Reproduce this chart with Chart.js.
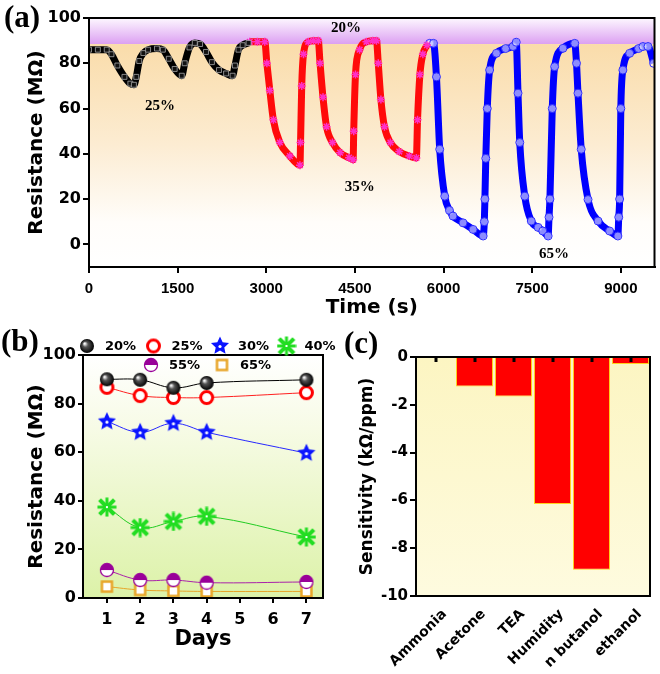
<!DOCTYPE html>
<html lang="en">
<head>
<meta charset="UTF-8">
<title>Resistance response</title>
<script src="https://cdn.jsdelivr.net/npm/chart.js"></script>
<style>
    body { margin: 0; background: #ffffff; }
    #fig { position: relative; width: 660px; height: 674px; overflow: hidden; }
    canvas { position: absolute; }
    .tag {
        position: absolute;
        font-family: "Liberation Serif", serif;
        font-weight: bold;
        font-size: 31px;
        line-height: 1;
        color: #000;
    }
</style>
</head>
<body>
<div id="fig">
    <canvas id="ca" width="660" height="322" style="left:0;top:0"></canvas>
    <canvas id="cb" width="345" height="364" style="left:0;top:310px"></canvas>
    <canvas id="cc" width="330" height="364" style="left:330px;top:310px"></canvas>
    <div class="tag" style="left:4px;top:1px">(a)</div>
    <div class="tag" style="left:1px;top:325px">(b)</div>
    <div class="tag" style="left:344px;top:327px">(c)</div>
</div>

<script>
// ---------- (a) resistance vs time, three humidity runs
const timeBlack = [0, 150, 300, 380, 480, 600, 700, 760, 800, 850, 920, 1000, 1150, 1250, 1350, 1450, 1570, 1620, 1700, 1790, 1880, 1980, 2080, 2200, 2320, 2430, 2470, 2530, 2600, 2700];
const resBlack  = [86, 86, 86, 84, 79, 74, 71, 70.5, 74, 81, 84.5, 86, 86.5, 86, 82, 77.5, 74.5, 80, 87, 89, 88.5, 85, 80.5, 77, 75.5, 74.5, 79, 86, 88, 89];

const timeRed = [2720, 2850, 2975, 3010, 3060, 3120, 3230, 3400, 3570, 3580, 3600, 3630, 3710, 3800, 3880, 3910, 3960, 4020, 4120, 4250, 4400, 4470, 4480, 4510, 4580, 4695, 4800, 4865, 4895, 4940, 5000, 5100, 5250, 5420, 5540, 5560, 5600, 5650, 5720];
const resRed  = [89.5, 89.5, 89.5, 80, 68, 55, 45, 39, 35, 45, 70, 84, 89.5, 90, 90, 80, 65, 52, 45, 40.5, 38.3, 37.4, 50, 75, 86, 89.5, 90, 90, 80, 64, 52, 45, 41, 39, 38.2, 55, 75, 84, 88];

const timeBlue = [5765, 5830, 5880, 5935, 6020, 6100, 6160, 6330, 6500, 6670, 6690, 6700, 6715, 6740, 6780, 6895, 7050, 7175, 7230, 7260, 7290, 7375, 7485, 7600, 7680, 7770, 7785, 7800, 7840, 7880, 8020, 8220, 8250, 8275, 8330, 8445, 8615, 8810, 8950, 8965, 8980, 9000, 9035, 9150, 9300, 9375, 9460, 9555];
const resBlue  = [88.8, 88.8, 74, 42, 21.3, 15, 12.5, 9.5, 6.6, 3.7, 10, 20, 38, 60, 77, 84.4, 86.5, 87.4, 89.3, 66.8, 45, 21.3, 10.3, 7.5, 5.9, 3.7, 12, 20, 60, 78.5, 86.6, 88.8, 80, 66.8, 42, 19.8, 10.3, 5.9, 3.7, 12, 20, 60, 77, 84.4, 86.5, 87.4, 87.4, 80];

const timeTicks = [0, 1500, 3000, 4500, 6000, 7500, 9000];
const resTicksA = [0, 20, 40, 60, 80, 100];

// RH labels written inside panel (a)
const rhNotes = ['20%', '25%', '35%', '65%'];
const rhNoteT = [4350, 1200, 4580, 7870];
const rhNoteR = [95.6, 61.2, 25.1, -4.4];

// ---------- (b) stability over days
const days = [1, 2, 3, 4, 7];
const dayTicks = [1, 2, 3, 4, 5, 6, 7];
const rh20 = [90, 89.8, 86.5, 88.5, 89.8];
const rh25 = [86.7, 83.3, 82.5, 82.5, 84.5];
const rh30 = [72.6, 68.2, 71.9, 68.2, 59.6];
const rh40 = [37.4, 29, 31.5, 33.6, 25.1];
const rh55 = [11.5, 7.4, 7.4, 6.3, 6.6];
const rh65 = [4.7, 3.3, 2.9, 2.7, 2.7];
const resTicksB = [0, 20, 40, 60, 80, 100];

// ---------- (c) sensitivity per gas
const gases = ['Ammonia', 'Acetone', 'TEA', 'Humidity', 'n butanol', 'ethanol'];
const sensitivity = [0, -1.23, -1.65, -6.15, -8.9, -0.29];
const sensTicks = [0, -2, -4, -6, -8, -10];

Chart.defaults.font.family = '"DejaVu Sans", sans-serif';
Chart.defaults.font.weight = 'bold';
Chart.defaults.color = '#000';

const pts = (xs, ys) => xs.map((x, i) => ({ x: x, y: ys[i] }));
const fixTicks = list => scale => { scale.ticks = list.map(v => ({ value: v })); };
const plain = v => String(v);

// black frame round the plot area
const boxPlugin = {
    id: 'box',
    afterDraw(chart) {
        const { ctx, chartArea: a } = chart;
        ctx.save();
        ctx.strokeStyle = '#000';
        ctx.lineWidth = 2;
        ctx.strokeRect(a.left, a.top, a.right - a.left, a.bottom - a.top);
        ctx.restore();
    }
};

function axisStyle(extra) {
    return Object.assign({
        grid: { drawOnChartArea: false, color: '#000', lineWidth: 2, tickLength: 6 },
        border: { color: '#000', width: 2 }
    }, extra);
}

// ---------- panel (a)
const bgA = {
    id: 'bgA',
    beforeDraw(chart) {
        const { ctx, chartArea: a, scales: { y } } = chart;
        const yb = y.getPixelForValue(88.5);
        ctx.save();
        let g = ctx.createLinearGradient(0, a.top, 0, yb);
        g.addColorStop(0, '#fdf8ff');
        g.addColorStop(1, '#dca0f2');
        ctx.fillStyle = g;
        ctx.fillRect(a.left, a.top, a.right - a.left, yb - a.top);
        g = ctx.createLinearGradient(0, yb, 0, a.bottom);
        g.addColorStop(0, '#fadcaa');
        g.addColorStop(0.45, '#fcecd2');
        g.addColorStop(0.8, '#fffdfa');
        g.addColorStop(1, '#ffffff');
        ctx.fillStyle = g;
        ctx.fillRect(a.left, yb, a.right - a.left, a.bottom - yb);
        ctx.restore();
    }
};

const notesPlugin = {
    id: 'notes',
    afterDatasetsDraw(chart) {
        const { ctx, scales: { x, y } } = chart;
        ctx.save();
        ctx.font = 'bold 15px "Liberation Serif", serif';
        ctx.fillStyle = '#000';
        ctx.textAlign = 'center';
        ctx.textBaseline = 'middle';
        rhNotes.forEach((t, i) => ctx.fillText(t, x.getPixelForValue(rhNoteT[i]), y.getPixelForValue(rhNoteR[i])));
        ctx.restore();
    }
};

new Chart(document.getElementById('ca'), {
    type: 'line',
    data: {
        datasets: [
            {
                data: pts(timeBlack, resBlack),
                borderColor: '#000', borderWidth: 7, cubicInterpolationMode: 'monotone',
                pointStyle: 'rect', pointRadius: 3.5,
                pointBackgroundColor: '#111', pointBorderColor: '#aaa', pointBorderWidth: 0.8
            },
            {
                data: pts(timeRed, resRed),
                borderColor: '#ff0a0a', borderWidth: 7, cubicInterpolationMode: 'monotone',
                pointStyle: 'star', pointRadius: 4,
                pointBorderColor: '#ff30c8', pointBorderWidth: 1.5
            },
            {
                data: pts(timeBlue, resBlue),
                borderColor: '#0000ff', borderWidth: 7, cubicInterpolationMode: 'monotone',
                pointStyle: 'circle', pointRadius: 4,
                pointBackgroundColor: 'rgba(255,255,255,0.55)', pointBorderColor: '#2a2aff', pointBorderWidth: 1
            }
        ]
    },
    options: {
        responsive: false,
        animation: false,
        layout: { padding: { top: 18, right: 5 } },
        plugins: { legend: { display: false }, tooltip: { enabled: false } },
        scales: {
            x: axisStyle({
                type: 'linear', min: 0, max: 9570,
                afterBuildTicks: fixTicks(timeTicks),
                afterFit: s => { s.height = 55; },
                ticks: { font: { family: '"Liberation Sans", sans-serif', size: 15, weight: 'bold' }, padding: 7, callback: plain },
                title: { display: true, text: 'Time (s)', font: { size: 20, weight: 'bold' }, padding: { bottom: 2 } }
            }),
            y: axisStyle({
                min: -10, max: 100,
                afterBuildTicks: fixTicks(resTicksA),
                afterFit: s => { s.width = 89; },
                ticks: { font: { size: 16, weight: 'bold' }, padding: 2 },
                title: { display: true, text: 'Resistance (MΩ)', font: { size: 20, weight: 'bold' }, padding: { top: 25 } }
            })
        }
    },
    plugins: [bgA, boxPlugin, notesPlugin]
});

// ---------- panel (b) markers
function mark(size, draw) {
    const c = document.createElement('canvas');
    c.width = size; c.height = size;
    draw(c.getContext('2d'), size / 2);
    return c;
}
const m20 = mark(16, (g, c) => {
    const gr = g.createRadialGradient(c - 2.5, c - 2.5, 0.5, c, c, 7);
    gr.addColorStop(0, '#ffffff');
    gr.addColorStop(0.35, '#555');
    gr.addColorStop(1, '#000');
    g.fillStyle = gr;
    g.beginPath(); g.arc(c, c, 7, 0, Math.PI * 2); g.fill();
});
const m25 = mark(17, (g, c) => {
    g.fillStyle = '#fff'; g.strokeStyle = '#ff0000'; g.lineWidth = 3;
    g.beginPath(); g.arc(c, c, 6, 0, Math.PI * 2); g.fill(); g.stroke();
});
function starPath(g, c, ro, ri) {
    g.beginPath();
    for (let k = 0; k < 10; k++) {
        const r = k % 2 ? ri : ro;
        const a = -Math.PI / 2 + k * Math.PI / 5;
        g.lineTo(c + r * Math.cos(a), c + r * Math.sin(a));
    }
    g.closePath();
}
const m30 = mark(20, (g, c) => {
    g.fillStyle = '#0a14ff';
    starPath(g, c, 9.5, 4.5); g.fill();
    g.fillStyle = '#fff';
    g.beginPath(); g.arc(c, c + 0.5, 1.6, 0, Math.PI * 2); g.fill();
});
const m40 = mark(20, (g, c) => {
    g.strokeStyle = '#22dd22'; g.lineCap = 'square';
    g.lineWidth = 4;
    g.beginPath();
    g.moveTo(c - 6, c - 6); g.lineTo(c + 6, c + 6);
    g.moveTo(c + 6, c - 6); g.lineTo(c - 6, c + 6);
    g.stroke();
    g.lineWidth = 3;
    g.beginPath();
    g.moveTo(c, c - 8); g.lineTo(c, c + 8);
    g.moveTo(c - 8, c); g.lineTo(c + 8, c);
    g.stroke();
    g.fillStyle = '#fff';
    g.fillRect(c - 1, c - 1, 2, 2);
});
const m55 = mark(16, (g, c) => {
    g.fillStyle = '#fff';
    g.beginPath(); g.arc(c, c, 6.5, 0, Math.PI * 2); g.fill();
    g.fillStyle = '#990099';
    g.beginPath(); g.arc(c, c, 6.5, Math.PI, Math.PI * 2); g.closePath(); g.fill();
    g.strokeStyle = '#990099'; g.lineWidth = 1.3;
    g.beginPath(); g.arc(c, c, 6.5, 0, Math.PI * 2); g.stroke();
});
const m65 = mark(15, (g, c) => {
    g.fillStyle = '#fff'; g.strokeStyle = '#e8a62a'; g.lineWidth = 2.5;
    g.fillRect(c - 5, c - 5, 10, 10); g.strokeRect(c - 5, c - 5, 10, 10);
});

const bgB = {
    id: 'bgB',
    beforeDraw(chart) {
        const { ctx, chartArea: a } = chart;
        const g = ctx.createLinearGradient(0, a.top, 0, a.bottom);
        g.addColorStop(0, '#ffffff');
        g.addColorStop(0.3, '#f7fbe6');
        g.addColorStop(1, '#dcf2a8');
        ctx.save();
        ctx.fillStyle = g;
        ctx.fillRect(a.left, a.top, a.right - a.left, a.bottom - a.top);
        ctx.restore();
    }
};

// two-row legend above panel (b)
const legendB = {
    id: 'legendB',
    afterDraw(chart) {
        const { ctx } = chart;
        const rows = [[0, 1, 2, 3], [4, 5]];
        const rowX = [87, 151];
        const rowY = [36, 55];
        ctx.save();
        ctx.font = 'bold 13px "DejaVu Sans", sans-serif';
        ctx.fillStyle = '#000';
        ctx.textBaseline = 'middle';
        rows.forEach((row, r) => {
            row.forEach((di, k) => {
                const ds = chart.data.datasets[di];
                const x = rowX[r] + k * (r ? 71 : 66.5);
                const img = ds.pointStyle;
                ctx.drawImage(img, x - img.width / 2, rowY[r] - img.height / 2);
                ctx.fillText(ds.label, x + 18, rowY[r] + 1);
            });
        });
        ctx.restore();
    }
};

function series(label, ys, color, img) {
    return {
        label: label, data: pts(days, ys),
        borderColor: color, borderWidth: 1, tension: 0.4,
        pointStyle: img, pointRadius: 7
    };
}

new Chart(document.getElementById('cb'), {
    type: 'line',
    data: {
        datasets: [
            series('20%', rh20, '#000', m20),
            series('25%', rh25, '#ff2020', m25),
            series('30%', rh30, '#2828ff', m30),
            series('40%', rh40, '#22cc22', m40),
            series('55%', rh55, '#aa22aa', m55),
            series('65%', rh65, '#e8a62a', m65)
        ]
    },
    options: {
        responsive: false,
        animation: false,
        layout: { padding: { top: 45, right: 22 } },
        plugins: { legend: { display: false }, tooltip: { enabled: false } },
        scales: {
            x: axisStyle({
                type: 'linear', min: 0.28, max: 7.5,
                afterBuildTicks: fixTicks(dayTicks),
                afterFit: s => { s.height = 76; },
                grid: { drawOnChartArea: false, color: '#000', lineWidth: 2, tickLength: 5 },
                ticks: { font: { size: 16, weight: 'bold' }, padding: 7 },
                title: { display: true, text: 'Days', font: { size: 21, weight: 'bold' }, padding: { bottom: 22 } }
            }),
            y: axisStyle({
                min: 0, max: 100,
                afterBuildTicks: fixTicks(resTicksB),
                afterFit: s => { s.width = 83; },
                grid: { drawOnChartArea: false, color: '#000', lineWidth: 2, tickLength: 5 },
                ticks: { font: { size: 16, weight: 'bold' }, padding: 2 },
                title: { display: true, text: 'Resistance (MΩ)', font: { size: 20, weight: 'bold' }, padding: { top: 25 } }
            })
        }
    },
    plugins: [bgB, boxPlugin, legendB]
});

// ---------- panel (c)
const bgC = {
    id: 'bgC',
    beforeDraw(chart) {
        const { ctx, chartArea: a } = chart;
        const g = ctx.createLinearGradient(0, a.top, 0, a.bottom);
        g.addColorStop(0, '#fcf5c2');
        g.addColorStop(1, '#fefbdf');
        ctx.save();
        ctx.fillStyle = g;
        ctx.fillRect(a.left, a.top, a.right - a.left, a.bottom - a.top);
        ctx.restore();
    }
};
// little marks hanging from the zero line at each gas
const topMarks = {
    id: 'topMarks',
    afterDraw(chart) {
        const { ctx, chartArea: a, scales: { x } } = chart;
        ctx.save();
        ctx.fillStyle = '#000';
        gases.forEach((g, i) => ctx.fillRect(Math.round(x.getPixelForValue(i)) - 1.5, a.top, 3, 5));
        ctx.restore();
    }
};

new Chart(document.getElementById('cc'), {
    type: 'bar',
    data: {
        labels: gases,
        datasets: [{
            data: sensitivity,
            backgroundColor: '#ff0000',
            borderColor: '#ffd21f',
            borderWidth: 1,
            barPercentage: 0.95,
            categoryPercentage: 1
        }]
    },
    options: {
        responsive: false,
        animation: false,
        layout: { padding: { top: 47, right: 10 } },
        plugins: { legend: { display: false }, tooltip: { enabled: false } },
        scales: {
            x: {
                afterFit: s => { s.height = 78; },
                grid: { display: false },
                border: { color: '#000', width: 2 },
                ticks: { font: { size: 14, weight: 'bold' }, minRotation: 45, maxRotation: 45, padding: 2, labelOffset: 9 }
            },
            y: axisStyle({
                min: -10, max: 0,
                afterBuildTicks: fixTicks(sensTicks),
                afterFit: s => { s.width = 86; },
                ticks: { font: { size: 15, weight: 'bold' }, padding: 2 },
                title: { display: true, text: 'Sensitivity (kΩ/ppm)', font: { size: 17, weight: 'bold' }, padding: { top: 27 } }
            })
        }
    },
    plugins: [bgC, boxPlugin, topMarks]
});
</script>
</body>
</html>
